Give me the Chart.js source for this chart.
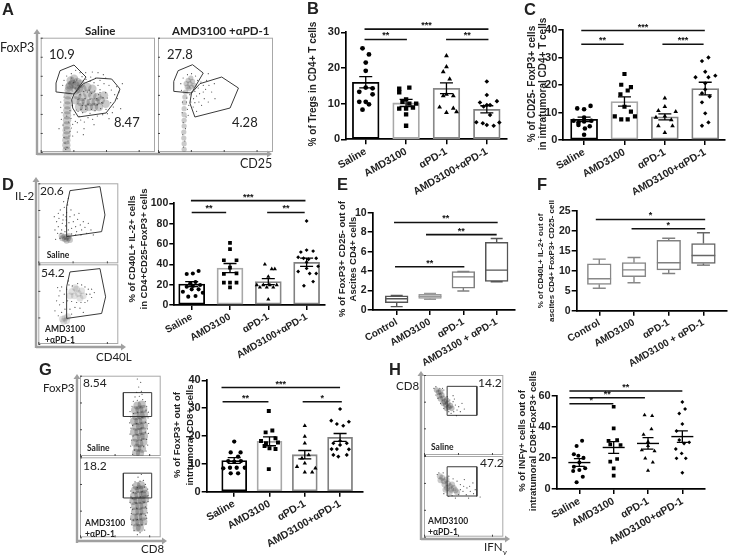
<!DOCTYPE html>
<html><head><meta charset="utf-8">
<script src="https://cdn.jsdelivr.net/npm/chart.js@4/dist/chart.umd.min.js"></script>
<style>
html,body{margin:0;padding:0;background:#fff;width:729px;height:555px;overflow:hidden}
#page{position:relative;width:729px;height:555px;filter:blur(.35px)}
canvas{position:absolute;left:0;top:0}
svg{position:absolute;left:0;top:0}
.t{position:absolute;white-space:nowrap;transform:translateY(-50%);color:#222;line-height:1}
.v{position:absolute;white-space:nowrap;transform:translate(-50%,-50%) rotate(-90deg);color:#222;line-height:1;font-family:"Liberation Sans",Arial,sans-serif;font-weight:bold}
</style></head><body><div id="page">
<svg width="729" height="555" id="arrows"></svg>
<script>
/* ---------- categories ---------- */
const treatCats=['Saline','AMD3100','αPD-1','AMD3100+αPD-1'];
const boxCats=['Control','AMD3100','αPD-1','AMD3100 + αPD-1'];

/* ---------- B ---------- */
const bMeans=[16,10.2,14.3,8.4];
const bSems=[1.6,1,1.5,1];
const bSaline=[[-.08,25.5],[.08,23.8],[0,21.5],[0,19.2],[0,14.5],[.17,14.3],[-.16,13.3],[.17,12.6],[-.16,10.5],[0,10.5],[.08,9.8],[-.08,8.3]];
const bAmd=[[-.17,14.2],[.08,14.5],[-.17,13.2],[.0,11.2],[-.09,10.5],[.08,10],[.25,10],[-.17,8.6],[0,8.6],[.17,8.9],[0,7],[0,3.8]];
const bPd=[[0,23.4],[0,20.3],[-.08,18.9],[.08,16.9],[0,12.6],[-.08,12.2],[.17,12.2],[-.17,9],[.17,8.7],[0,7.5],[.25,7.7]];
const bCombo=[[0,16.2],[0,12.4],[-.17,10.3],[.25,10.7],[0,9.6],[-.08,9.2],[.08,9.6],[.08,6.8],[-.26,4.8],[-.1,4.5],[0,4],[.17,3.8],[.31,4.7]];
const bSig=[[-.03,3.04,30.9,'***'],[-.03,1.02,28,'**'],[1.99,3.04,28,'**']];

/* ---------- C ---------- */
const cMeans=[7.5,14,8.4,18.7];
const cSems=[.8,1.7,1.1,2.3];
const cSaline=[[-.17,11.5],[0,11.2],[.16,12.4],[0,8.2],[-.26,7],[-.14,6.4],[0,6.7],[.18,7],[-.14,5.5],[.14,5],[0,1.9],[.02,4.2]];
const cAmd=[[0,24],[-.08,20.1],[.16,19.2],[.08,18],[-.1,16.6],[0,12.1],[.16,10.3],[-.24,8.6],[.26,8.6],[-.08,7.5],[.08,7.5]];
const cPd=[[0,15.2],[0,12.1],[-.16,10.7],[.27,10.3],[0,8.7],[-.22,8.2],[.16,7.3],[-.16,5.1],[.19,5.1],[0,2.7]];
const cCombo=[[.08,30],[-.08,28.7],[0,24.8],[.25,23.4],[-.24,22.8],[.08,22.8],[0,20.6],[0,18.4],[-.08,17],[.11,15.8],[-.08,13.7],[0,9.7],[.08,6.4],[-.08,5.2]];
const cSig=[[-.07,2.99,39.8,'***'],[-.07,.98,34.8,'**'],[1.94,2.96,34.8,'***']];

/* ---------- D ---------- */
const dMeans=[20.5,36.3,23,42];
const dSems=[2.5,4.5,3,4];
const dSaline=[[-.13,30.5],[.03,31],[.18,33.4],[-.04,21],[.1,22.6],[-.13,18],[.22,19.7],[-.23,13],[0,15.4],[.18,15.4],[-.09,8.2],[.1,8.9],[.29,12],[.03,18.7]];
const dAmd=[[0,61],[0,55],[-.16,44],[.17,44],[0,36.7],[.17,31],[-.16,30.5],[0,22],[-.16,22],[.17,22],[0,17.4]];
const dPd=[[-.09,40],[.09,35.4],[.17,35.4],[0,28],[-.3,19.7],[-.13,19.7],[.04,19.7],[.22,19.7],[-.22,17.4],[-.04,17.4],[.13,17.4],[0,5.6]];
const dCombo=[[0,82.6],[-.15,52],[0,54],[.17,53],[-.22,47],[-.08,46],[.05,45],[.25,46],[0,42],[-.22,33],[.08,31],[.25,31],[0,36],[-.07,19],[.17,23],[.3,38]];
const dSig=[[-.02,2.97,102.6,'***'],[0,.9,91,'**'],[1.97,2.95,91,'**']];

/* ---------- E box values: low, q1, median, q3, high ---------- */
const eLow=[.35,1.1,1.95,2.9];
const eQ1=[.75,1.2,2.25,2.95];
const eMedian=[1.15,1.4,3.4,4.1];
const eQ3=[1.45,1.6,3.95,6.95];
const eHigh=[1.5,1.7,3.95,7.35];
const eSig=[[-.08,3.03,9,'**'],[.88,3,7.75,'**'],[-.05,2.03,4.45,'**']];

/* ---------- F box values ---------- */
const fLow=[5.6,7,9.3,11.4];
const fQ1=[6.6,8.5,10.2,11.8];
const fMedian=[8,10.2,12,13.8];
const fQ3=[11.7,12,17.6,16.8];
const fHigh=[12.9,13.3,18.1,19.5];
const fSig=[[-.1,3.05,22.8,'*'],[.93,3.05,20.5,'*']];

/* ---------- G ---------- */
const gMeans=[11.2,18.1,13.3,19.5];
const gSems=[1,1.6,1.5,1.4];
const gSaline=[[0,18],[-.1,14.1],[.18,14.1],[.11,12.6],[-.17,11],[0,10.8],[.19,11],[-.31,8.4],[-.12,8.6],[.07,8.6],[.3,8.6],[-.1,6.6],[.11,6.6]];
const gAmd=[[-.02,29],[.08,22],[-.11,21.3],[.17,19.2],[-.24,18.2],[-.1,17.4],[.24,17.7],[0,15.6],[.17,15.3],[-.14,16.4],[-.02,8.1]];
const gPd=[[0,23.7],[0,19.8],[0,17.4],[.11,13.2],[-.08,12],[-.22,9],[.3,8.4],[0,10.2],[0,7],[.21,7]];
const gCombo=[[0,29.7],[-.25,25.5],[.25,25.1],[-.09,24.3],[.09,23.7],[0,18.2],[-.19,17.4],[.19,17.4],[0,16.8],[-.24,15.3],[-.09,15.3],[.25,15.2],[-.19,13.2],[-.05,12.6],[.19,13.2]];
const gSig=[[-.36,3,37.4,'***'],[-.33,.97,32.3,'**'],[1.94,3.05,32.3,'*']];

/* ---------- H ---------- */
const hMeans=[17,26.7,29.3,33.7];
const hSems=[2.5,3.8,3.7,3.7];
const hSaline=[[.08,31],[-.08,27.6],[-.16,22.3],[-.03,21.4],[.12,20],[0,17],[-.16,14.3],[.17,13.3],[0,12.2],[-.18,11.6],[.1,7.9],[-.08,4.3]];
const hAmd=[[0,52.9],[0,39],[-.15,31],[.1,31.5],[-.1,28.7],[.2,28.3],[.1,19.3],[-.1,17.6],[0,13.3],[0,8.6]];
const hPd=[[-.1,47.5],[.12,47.1],[.1,38.5],[-.13,35],[0,30.4],[0,27.8],[-.18,25],[.19,24.4],[-.08,19.7],[.14,17.1],[0,11.8]];
const hCombo=[[0,56],[.08,51.4],[-.09,48.6],[0,41.8],[-.17,37.3],[-.09,31.5],[.2,30],[.05,29.3],[-.19,25.7],[-.02,22.9],[.1,19.7],[-.17,19.7],[0,10.5]];
const hSig=[[-.29,3,63,'**'],[-.29,1.91,58.7,'**'],[-.29,.99,54.8,'*']];

/* ---------- flow cytometry plots (channel values) ---------- */
const aSalineCore=[[78,5],[77,20],[77,35],[78,50],[78,65],[78,80],[79,95],[79,110],[80,125],[80,140],[81,155],[82,170],[84,185],[88,200],[95,205],[105,200],[90,215],[100,220],[110,210],[120,205],[85,195],[115,190],[105,185],[110,170],[125,165],[140,175],[155,170],[170,165],[120,150],[135,150],[150,150],[165,150],[180,155],[115,135],[130,130],[145,135],[160,135],[175,135],[125,190],[140,195],[155,190],[190,170],[195,145],[105,155]];
const aSalineDots=[[75,8],[79,14],[73,27],[82,33],[70,44],[85,48],[88,61],[72,66],[92,72],[67,81],[96,83],[84,90],[104,92],[62,98],[110,88],[91,101],[120,96],[78,108],[100,112],[131,90],[64,118],[142,103],[115,107],[156,98],[88,124],[126,118],[170,108],[107,126],[148,116],[186,112],[205,100],[60,134],[135,128],[196,128],[218,135],[163,124],[95,140],[180,130],[210,148],[230,160],[200,162],[222,172],[186,147],[235,180],[212,186],[195,178],[178,187],[228,196],[205,200],[190,205],[172,200],[160,208],[148,212],[136,218],[124,226],[150,225],[165,222],[178,215],[195,222],[155,240],[135,238],[118,238],[105,245],[92,235],[78,228],[70,215],[66,200],[140,180],[125,140],[112,122],[200,115],[240,130],[55,70],[160,82],[215,118],[130,70],[245,205],[172,238],[188,232],[110,60],[96,48],[128,52],[60,150],[70,165],[112,158],[118,172],[127,147],[133,161],[142,142],[148,158],[153,176],[161,144],[168,160],[174,172],[183,148],[187,163],[121,128],[136,138],[152,128],[170,142],[99,208],[108,216],[116,198],[93,222],[103,192],[88,210],[128,182],[146,186],[162,183],[178,178]];
const aSalineGateUp=[[58,244],[100,261],[136,225],[100,174],[48,180],[46,207],[58,244]];
const aSalineGateLow=[[100,174],[128,205],[168,222],[213,219],[238,189],[223,152],[196,117],[113,105],[96,132],[93,157],[100,174]];
const aComboCore=[[78,8],[78,25],[77,42],[77,60],[78,78],[78,95],[78,112],[78,130],[79,148],[80,165],[82,180],[87,195],[95,205],[103,212],[90,215],[98,222],[108,200],[84,205],[92,190],[100,195]];
const aComboDots=[[76,15],[80,33],[74,52],[82,70],[75,88],[84,105],[72,118],[88,128],[92,140],[73,150],[98,150],[86,162],[106,160],[95,172],[115,168],[110,182],[124,175],[120,192],[135,200],[128,210],[142,188],[118,215],[112,228],[100,235],[88,232],[75,222],[68,205],[70,185],[145,215],[152,200],[160,180],[138,160],[105,135],[130,140],[150,150],[115,122],[170,160],[90,110],[150,235],[168,205],[122,150],[110,148],[135,180],[100,180],[85,150]];
const aComboGateUp=[[60,244],[103,262],[135,237],[100,177],[47,182],[47,212],[60,244]];
const aComboGateLow=[[100,177],[125,205],[190,225],[240,192],[215,132],[110,105],[95,147],[100,177]];

const dTopCore=[[85,78],[78,80],[90,75],[80,72],[92,82],[72,75],[85,68],[95,70],[70,83]];
const dTopDots=[[60,110],[62,135],[66,160],[55,125],[70,100],[72,120],[75,145],[78,168],[80,95],[82,112],[84,130],[85,152],[88,175],[68,90],[90,100],[92,122],[95,140],[98,160],[100,105],[105,125],[108,145],[112,110],[115,95],[118,132],[122,150],[126,115],[130,100],[135,125],[140,108],[150,120],[145,90],[158,100],[50,100],[48,140],[76,185],[90,195],[58,90],[65,75],[52,72],[100,88],[112,85],[128,85],[165,85],[60,150],[74,130],[83,140]];
const dTopGate=[[95,218],[185,230],[200,145],[190,95],[85,80],[85,170],[95,218]];
const dBottomCore=[[80,78],[72,75],[85,70],[76,68],[88,82],[120,152],[108,145],[130,160],[115,165],[100,158],[135,145],[125,138],[110,170],[95,145]];
const dBottomDots=[[65,160],[70,172],[62,145],[58,170],[78,150],[85,165],[92,178],[102,175],[118,182],[130,178],[140,172],[150,165],[145,150],[155,150],[128,125],[115,125],[100,128],[88,130],[75,125],[64,118],[80,105],[95,105],[110,110],[125,108],[140,125],[160,140],[135,95],[70,95],[55,130],[90,190],[160,165],[168,155],[50,100],[60,85],[100,90],[148,130]];
const dBottomGate=[[95,217],[185,227],[202,142],[190,92],[85,77],[85,172],[95,217]];

const gTopCore=[[168,10],[180,8],[172,25],[186,22],[165,40],[178,38],[190,42],[168,55],[182,58],[192,60],[162,72],[175,72],[188,75],[168,88],[180,90],[192,92],[162,105],[175,105],[188,108],[168,120],[182,122],[192,125],[165,138],[178,140],[190,142],[172,152],[185,155]];
const gTopDots=[[158,5],[198,15],[152,30],[203,33],[155,48],[200,50],[150,66],[205,68],[153,84],[202,82],[149,100],[206,98],[152,118],[204,115],[150,134],[205,132],[156,150],[200,150],[160,165],[172,168],[188,170],[196,164],[178,180],[170,192],[184,195],[176,208],[182,222],[172,232],[186,186],[165,178],[163,18],[176,30],[191,28],[159,60],[171,64],[184,48],[196,72],[158,92],[170,98],[183,84],[197,102],[160,128],[173,132],[186,116],[198,138]];
const gTopGate=[[130,119],[215,119],[215,191],[130,191],[130,119]];
const gBottomCore=[[170,30],[180,28],[165,45],[178,45],[190,48],[162,60],[175,62],[188,62],[165,78],[178,78],[190,80],[165,95],[178,95],[190,98],[160,110],[172,112],[185,112],[195,115],[162,125],[175,128],[188,128],[195,132],[165,142],[178,145],[190,145],[170,155],[183,158]];
const gBottomDots=[[172,8],[180,14],[162,20],[194,22],[155,38],[198,40],[152,55],[200,58],[154,72],[202,74],[152,90],[200,88],[150,106],[204,108],[153,122],[204,126],[152,140],[203,146],[158,158],[196,160],[165,168],[180,170],[190,172],[174,182],[184,190],[160,52],[172,54],[186,38],[197,66],[158,84],[170,88],[183,70],[196,92],[158,118],[168,104],[181,122],[192,106],[160,136],[172,150],[186,138],[194,152]];
const gBottomGate=[[130,119],[215,119],[215,194],[130,194],[130,119]];

const hTopCore=[[38,195],[44,188],[50,190],[46,178],[54,180],[58,170],[50,168],[62,160],[68,165],[58,155],[66,150],[72,155],[75,143],[68,140],[80,148],[84,140]];
const hTopDots=[[30,200],[36,205],[48,200],[60,195],[42,170],[36,180],[70,175],[78,165],[88,160],[95,150],[100,135],[90,130],[105,145],[75,130],[60,140],[82,125],[92,168],[110,130],[50,155],[115,155],[56,200],[122,138],[98,118],[88,178]];
const hTopGate=[[70,206],[160,206],[160,119],[70,119],[70,206]];
const hBottomCore=[[48,180],[55,175],[50,168],[60,165],[68,170],[62,155],[72,158],[78,150],[70,145],[85,155],[90,145],[82,140],[95,138],[78,132],[100,132],[65,140]];
const hBottomDots=[[40,185],[45,190],[58,190],[75,180],[88,172],[100,165],[110,155],[120,150],[130,145],[140,135],[150,128],[160,120],[170,118],[105,125],[118,135],[128,125],[138,150],[148,160],[122,170],[95,115],[85,122],[110,140],[75,120],[60,128],[135,115],[155,140]];
const hBottomGate=[[70,208],[160,208],[160,121],[70,121],[70,208]];

/* ---------- library set-up ---------- */
Chart.defaults.animation=false;
Chart.defaults.responsive=false;
Chart.defaults.plugins.legend.display=false;
Chart.defaults.plugins.tooltip.enabled=false;
const FONT='"Liberation Sans",Arial,sans-serif';
const page=document.getElementById('page');
const W=729,H=555;
function newCanvas(){const c=document.createElement('canvas');c.width=W;c.height=H;page.appendChild(c);return c;}

const marks={id:'marks',afterDatasetsDraw(ch,_a,o){
  const c=ch.ctx,x=ch.scales.x,y=ch.scales.y;
  c.save();
  (o.errors||[]).forEach((e,i)=>{
    const m=o.means[i],px=x.getPixelForValue(i);
    c.strokeStyle=o.errColor||'#000';c.lineWidth=1.3;c.beginPath();
    c.moveTo(px,y.getPixelForValue(m-e));c.lineTo(px,y.getPixelForValue(m+e));
    [m-e,m+e].forEach(v=>{c.moveTo(px-o.cap,y.getPixelForValue(v));c.lineTo(px+o.cap,y.getPixelForValue(v));});
    c.stroke();
    if(o.meanHalf){c.lineWidth=1.4;c.beginPath();c.moveTo(px-o.meanHalf,y.getPixelForValue(m));c.lineTo(px+o.meanHalf,y.getPixelForValue(m));c.stroke();}
  });
  if(o.box){const b=o.box;b.median.forEach((md,i)=>{
    const px=x.getPixelForValue(i);
    c.strokeStyle=b.colors[i];c.lineWidth=1.4;c.beginPath();
    c.moveTo(px-b.half,y.getPixelForValue(md));c.lineTo(px+b.half,y.getPixelForValue(md));
    c.moveTo(px,y.getPixelForValue(b.q3[i]));c.lineTo(px,y.getPixelForValue(b.high[i]));
    c.moveTo(px,y.getPixelForValue(b.q1[i]));c.lineTo(px,y.getPixelForValue(b.low[i]));
    c.moveTo(px-b.cap,y.getPixelForValue(b.high[i]));c.lineTo(px+b.cap,y.getPixelForValue(b.high[i]));
    c.moveTo(px-b.cap,y.getPixelForValue(b.low[i]));c.lineTo(px+b.cap,y.getPixelForValue(b.low[i]));
    c.stroke();
  });}
  c.fillStyle='#111';c.strokeStyle='#111';c.textAlign='center';c.textBaseline='middle';c.font='bold 9px '+FONT;
  (o.sig||[]).forEach(s=>{
    const py=y.getPixelForValue(s[2]),a=x.getPixelForValue(s[0]),b=x.getPixelForValue(s[1]);
    c.lineWidth=1.6;c.beginPath();c.moveTo(a,py);c.lineTo(b,py);c.stroke();
    c.fillText(s[3],(a+b)/2,py-3.5);
  });
  c.restore();
}};

function axes(box,cats,xMin,xMax,yMax,step,fs){
  const yW=30,xH=Math.min(70,H-box.b);
  return {
    layout:{padding:{left:box.l-yW,right:W-box.r,top:box.t,bottom:H-box.b-xH}},
    scales:{
      x:{type:'linear',offset:false,min:xMin,max:xMax,
        afterBuildTicks(s){s.ticks=cats.map((_,i)=>({value:i}));},
        afterFit(s){s.height=xH;},
        border:{color:'#000',width:1.7},
        grid:{offset:false,drawOnChartArea:false,tickLength:5,color:'#000',lineWidth:1.5},
        ticks:{autoSkip:false,minRotation:30,maxRotation:30,padding:1,color:'#222',font:{family:FONT,size:fs,weight:'bold'},callback:v=>cats[v]}},
      y:{type:'linear',min:0,max:yMax,
        afterFit(s){s.width=yW;},
        border:{color:'#000',width:1.7},
        grid:{drawOnChartArea:false,tickLength:5,color:'#000',lineWidth:1.5},
        ticks:{stepSize:step,padding:1,color:'#222',font:{family:FONT,size:fs+.5,weight:'bold'}}}
    }
  };
}
const shapes=['circle','rect','triangle','rectRot'];
const radii=[2.4,3.1,2.8,2.3];
function ptDatasets(groups,scale){return groups.map((g,i)=>({type:'scatter',order:1,data:g.map(p=>({x:i+p[0],y:p[1]})),
  pointStyle:shapes[i],pointRadius:radii[i]*(scale||1),pointBackgroundColor:'#000',pointBorderWidth:0}));}

function barPanel(box,xr,yMax,step,means,sems,groups,sig,bw,colors,fs,scale,cap){
  const o=axes(box,treatCats,xr[0],xr[1],yMax,step,fs);
  o.plugins={marks:{errors:sems,means,cap,sig}};
  new Chart(newCanvas(),{type:'bar',plugins:[marks],options:o,data:{datasets:[
    {type:'bar',order:2,data:means.map((m,i)=>({x:i,y:m})),barThickness:bw,backgroundColor:'#fff',borderColor:colors,borderWidth:1.8,borderSkipped:false},
    ...ptDatasets(groups,scale)]}});
}
function boxPanel(box,xr,yMax,step,low,q1,med,q3,high,sig,bw,colors,cap,fs){
  const o=axes(box,boxCats,xr[0],xr[1],yMax,step,fs);
  o.plugins={marks:{sig,box:{low,q1,median:med,q3,high,half:bw/2,cap,colors}}};
  new Chart(newCanvas(),{type:'bar',plugins:[marks],options:o,data:{datasets:[
    {type:'bar',data:q1.map((v,i)=>({x:i,y:[v,q3[i]]})),barThickness:bw,backgroundColor:'#fff',borderColor:colors,borderWidth:1.5,borderSkipped:false}]}});
}
const frame={id:'frame',beforeDatasetsDraw(ch){const a=ch.chartArea,c=ch.ctx;c.save();c.strokeStyle='#a8a8a8';c.lineWidth=1;c.strokeRect(a.left+.5,a.top+.5,a.width-1,a.height-1);c.restore();},
 afterDraw(ch){const a=ch.chartArea,c=ch.ctx;c.save();c.fillStyle='#444';
  const sx=ch.scales.x,sy=ch.scales.y;
  sx.ticks.forEach(t=>{const p=sx.getPixelForValue(t.value);c.fillRect(p,a.bottom-2,1,2);});
  sy.ticks.forEach(t=>{const p=sy.getPixelForValue(t.value);c.fillRect(a.left,p,2,1);});
  c.restore();}};
function flowPanel(box,range,core,dots,gates,coreR,coreCol){
  const ds=[
    {data:core.map(p=>({x:p[0],y:p[1]})),pointRadius:coreR,pointBackgroundColor:coreCol,pointBorderWidth:0},
    {data:dots.map(p=>({x:p[0],y:p[1]})),pointRadius:.6,pointBackgroundColor:'rgba(30,30,30,.8)',pointBorderWidth:0}];
  gates.forEach(g=>ds.push({data:g.map(p=>({x:p[0],y:p[1]})),showLine:true,pointRadius:0,borderColor:'#3a3a3a',borderWidth:1,tension:0}));
  new Chart(newCanvas(),{type:'scatter',plugins:[frame],data:{datasets:ds},options:{
    layout:{padding:{left:box.l,right:W-box.r,top:box.t,bottom:H-box.b}},
    scales:{x:{display:false,min:0,max:range,ticks:{stepSize:range/7}},y:{display:false,min:0,max:range,ticks:{stepSize:range/6}}}}});
}

/* ---------- flow panels ---------- */
const greyDisc='rgba(60,60,60,.27)';
flowPanel({l:40.7,r:155,t:37.7,b:152},343,aSalineCore,aSalineDots,[aSalineGateUp,aSalineGateLow],4.2,greyDisc);
flowPanel({l:158,r:273,t:37.7,b:152},343,aComboCore,aComboDots,[aComboGateUp,aComboGateLow],2.6,greyDisc);
flowPanel({l:38.3,r:118.3,t:183.3,b:263.3},240,dTopCore,dTopDots,[dTopGate],3,greyDisc);
flowPanel({l:38.3,r:118.3,t:264.3,b:344},240,dBottomCore,dBottomDots,[dBottomGate],3.4,'rgba(70,70,70,.16)');
flowPanel({l:80,r:160.7,t:375.7,b:456},242,gTopCore,gTopDots,[gTopGate],4,'rgba(50,50,50,.3)');
flowPanel({l:80,r:160.7,t:457.3,b:537.3},242,gBottomCore,gBottomDots,[gBottomGate],4,'rgba(50,50,50,.3)');
flowPanel({l:424,r:503.3,t:375,b:455},240,hTopCore,hTopDots,[hTopGate],2.8,'rgba(50,50,50,.32)');
flowPanel({l:424,r:503.3,t:456,b:536.7},240,hBottomCore,hBottomDots,[hBottomGate],3,'rgba(50,50,50,.26)');

/* ---------- bar / box panels ---------- */
const barCols=['#000','#a8a8a8','#888','#808080'];
barPanel({l:346,r:507,t:32.3,b:139.3},[-.489,3.5],30,10,bMeans,bSems,[bSaline,bAmd,bPd,bCombo],bSig,26.7,barCols,10.5,1,6.5);
barPanel({l:563.3,r:726.7,t:30,b:140},[-.515,3.49],40,10,cMeans,cSems,[cSaline,cAmd,cPd,cCombo],cSig,27,barCols,10.5,.95,6.5);
barPanel({l:174.3,r:325,t:203.3,b:305},[-.454,3.48],100,20,dMeans,dSems,[dSaline,dAmd,dPd,dCombo],dSig,26,barCols,10,.85,6.5);
boxPanel({l:372.7,r:515,t:212.7,b:310},[-.72,3.55],10,2,eLow,eQ1,eMedian,eQ3,eHigh,eSig,22.7,['#555','#999','#808080','#555'],6,10);
boxPanel({l:576.7,r:726.7,t:210.7,b:310.7},[-.65,3.67],25,5,fLow,fQ1,fMedian,fQ3,fHigh,fSig,23.7,['#888','#888','#808080','#666'],6.5,10);
barPanel({l:206.7,r:363,t:380.3,b:491.7},[-.78,3.65],40,10,gMeans,gSems,[gSaline,gAmd,gPd,gCombo],gSig,25,barCols,10.5,.9,6.5);
(function(){
  const box={l:556.7,r:705,t:395.7,b:489};
  const o=axes(box,treatCats,-.66,3.66,60,20,10.5);
  o.plugins={marks:{errors:hSems,means:hMeans,cap:5.5,meanHalf:11,sig:hSig}};
  new Chart(newCanvas(),{type:'scatter',plugins:[marks],options:o,data:{datasets:ptDatasets([hSaline,hAmd,hPd,hCombo],.85)}});
})();

/* ---------- text ---------- */
function t(s,x,y,size,o){const d=document.createElement('div');d.className='t';d.innerHTML=s;d.style.left=x+'px';d.style.top=y+'px';d.style.fontSize=size+'px';
  d.style.fontFamily=(o&&o.f)||'Lato,"Open Sans",sans-serif';if(o&&o.b)d.style.fontWeight='bold';page.appendChild(d);}
function v(s,x,y,size){const d=document.createElement('div');d.className='v';d.textContent=s;d.style.left=x+'px';d.style.top=y+'px';d.style.fontSize=size+'px';page.appendChild(d);}
const sans={f:FONT,b:1};
[['A',2,9],['B',307,8],['C',524,9],['D',2,184],['E',337,184],['F',537,184],['G',39,369],['H',389,369]].forEach(a=>t(a[0],a[1],a[2],16.5,sans));
t('FoxP3',0,48,12.5);t('CD25',240,164,12.5);
t('Saline',85,31,11.5,{b:1});t('AMD3100 +αPD-1',172,31,11.5,{b:1});
t('10.9',49,54,13);t('8.47',114,122,13);t('27.8',167,54,13);t('4.28',232,122,13);
t('IL-2',15,196,11.5);t('20.6',40,190.7,12);t('Saline',46.7,255,8.5,{b:1});t('54.2',41,273,12);
t('AMD3100',45,329,8.5,{b:1});t('+αPD-1',45,340,8.5,{b:1});t('CD40L',96,357,11.5);
t('FoxP3',43,388,11.5);t('8.54',83,383,12);t('Saline',87,448,8.5,{b:1});t('18.2',83,466,12);
t('AMD3100',85,523,8.5,{b:1});t('+αPD-1',85,534,8.5,{b:1});t('CD8',141,549,11.5);
t('CD8',396,386,11.5);t('14.2',478,383,12);t('Saline',431,447,8.5,{b:1});t('47.2',480,463,12);
t('AMD3100',428,521,8.5,{b:1});t('+αPD-1',428,532,8.5,{b:1});t('IFN<sub style="font-size:8px;line-height:0">γ</sub>',484,547,11.5);

v('% of Tregs in CD4+ T cells',313,84,10);
v('% of CD25- FoxP3+ cells',531.7,84,10);v('in intratumoral CD4+ T cells',543,84,10);
v('% of CD40L+ IL-2+ cells',131.7,249,9.5);v('in CD4+CD25-FoxP3+ cells',144,249,9.5);
v('% of FoxP3+ CD25- out of',341.7,259,9.5);v('Ascites CD4+ cells',353,259,9.5);
v('% of CD40L+ IL-2+ out of',541,261,8);v('ascites CD4+ FoxP3+ CD25- cell',551.7,261,8);
v('% of FoxP3+ out of',176.7,435,9.5);v('intrtumoral CD8+ cells',190,435,9.5);
v('% of INFγ+ cells out of',521.7,441,9.5);v('intratumoral CD8+FoxP3+ cells',533,441,9.5);

/* ---------- gating axis arrows ---------- */
const svg=document.getElementById('arrows');
function arrow(x0,y0,x1,y1){const dx=Math.sign(x1-x0),dy=Math.sign(y1-y0);
  const a=5,b=3.5;
  svg.insertAdjacentHTML('beforeend',`<line x1="${x0}" y1="${y0}" x2="${x1-dx*a}" y2="${y1-dy*a}" stroke="#a0a0a0" stroke-width="2.4"/>`+
  `<polygon fill="#a0a0a0" points="${x1},${y1} ${x1-dx*a-dy*b},${y1-dy*a-dx*b} ${x1-dx*a+dy*b},${y1-dy*a+dx*b}"/>`);}
arrow(37,155,37,29);arrow(37,154,272,154);
arrow(36,348,36,177);arrow(36,347,126,347);
arrow(77,543,77,374);arrow(77,541,167,541);
arrow(421,540,421,371);arrow(421,539,510,539);
</script>
</div></body></html>
